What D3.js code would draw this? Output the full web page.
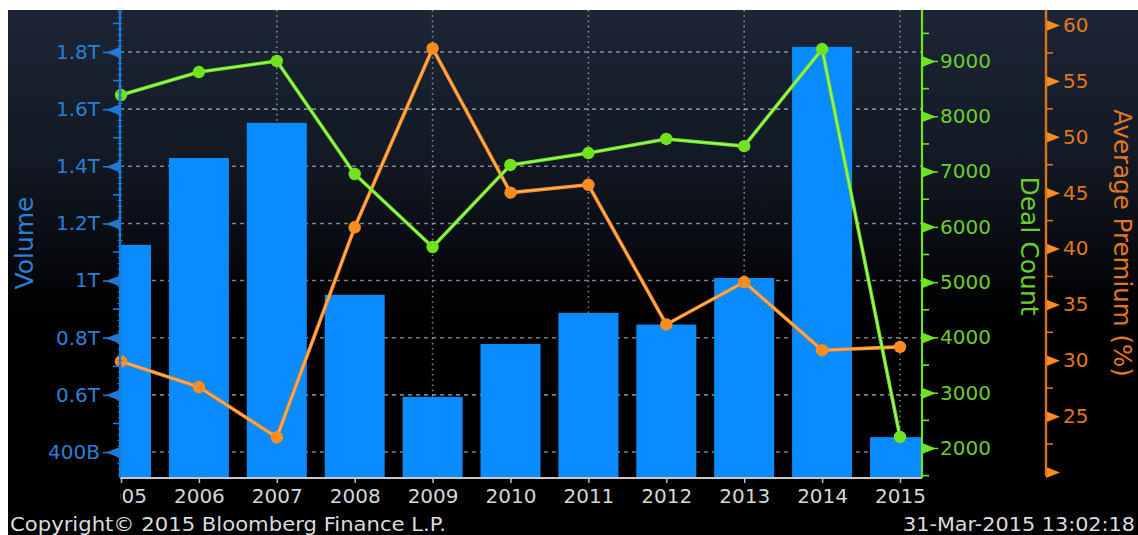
<!DOCTYPE html>
<html><head><meta charset="utf-8">
<script src="https://cdn.jsdelivr.net/npm/d3@7"></script>
<style>html,body{margin:0;padding:0;background:#fff;overflow:hidden}</style>
</head><body><svg id="c" width="1138" height="535"></svg>
<script>
// ---- data ----
const years = [2005, 2006, 2007, 2008, 2009, 2010, 2011, 2012, 2013, 2014, 2015];
const volumeT = [1.125, 1.429, 1.552, 0.950, 0.593, 0.778, 0.887, 0.846, 1.009, 1.818, 0.452];
const dealCount = [8384, 8800, 9000, 6956, 5635, 7120, 7335, 7590, 7460, 9216, 2200];
const avgPremium = [29.9, 27.6, 23.1, 41.9, 57.9, 45.0, 45.7, 33.2, 37.0, 30.9, 31.2];
const volumeTicks = [0.4, 0.6, 0.8, 1.0, 1.2, 1.4, 1.6, 1.8];
const volumeTickLabels = ["400B", "0.6T", "0.8T", "1T", "1.2T", "1.4T", "1.6T", "1.8T"];
const dealTicks = [2000, 3000, 4000, 5000, 6000, 7000, 8000, 9000];
const premiumTicks = [20, 25, 30, 35, 40, 45, 50, 55, 60];
const premiumTickLabels = ["", "25", "30", "35", "40", "45", "50", "55", "60"];
const gridYears = [2007, 2009, 2011, 2013, 2015];
const titles = { volume: "Volume", deal: "Deal Count", premium: "Average Premium (%)" };
const footerLeft = "Copyright\u00A9 2015 Bloomberg Finance L.P.";
const footerRight = "31-Mar-2015 13:02:18";

// ---- layout ----
const W = 1138, H = 535;
const L = 120, R = 922, T = 10, B = 478;
const RA = 1046;
const FONT = "'DejaVu Sans', Verdana, sans-serif";
const C = {
  bar: "#0a8cff", blueAxis: "#1f7ad6", blueText: "#2a80d6",
  green: "#6ee31e", greenText: "#6ccc2e", greenHi: "#c9ff9e",
  orange: "#ff8c1e", orangeAxis: "#d9731c", orangeText: "#e0781e", orangeHi: "#ffc996",
  grid: "rgba(205,210,215,0.6)", xText: "#d6d6d6"
};

const svg = d3.select("#c");
const defs = svg.append("defs");
const grad = defs.append("linearGradient").attr("id", "bg").attr("x1", 0).attr("y1", 0).attr("x2", 0).attr("y2", 1);
grad.append("stop").attr("offset", "0%").attr("stop-color", "#1d2636");
grad.append("stop").attr("offset", "30%").attr("stop-color", "#121823");
grad.append("stop").attr("offset", "58%").attr("stop-color", "#000");
grad.append("stop").attr("offset", "100%").attr("stop-color", "#000");
defs.append("clipPath").attr("id", "plot").append("rect").attr("x", L).attr("y", T).attr("width", R - L).attr("height", B - T);
defs.append("clipPath").attr("id", "xlab").append("rect").attr("x", L).attr("y", B).attr("width", W - L).attr("height", 40);

svg.append("rect").attr("width", W).attr("height", H).attr("fill", "#fff");
svg.append("rect").attr("x", 8).attr("y", T).attr("width", W - 8).attr("height", H - T).attr("fill", "url(#bg)");

// ---- scales ----
const x = d3.scalePoint().domain(years).range([121, 900]);
const yV = d3.scaleLinear().domain([0.4, 1.8]).range([452, 52]);
const yD = d3.scaleLinear().domain([2000, 9000]).range([448, 61]);
const yP = d3.scaleLinear().domain([20, 60]).range([472, 25]);

// ---- grid ----
const grid = svg.append("g");
grid.selectAll("line.h").data(volumeTicks).join("line")
  .attr("x1", L).attr("x2", R).attr("y1", d => yV(d)).attr("y2", d => yV(d))
  .attr("stroke", C.grid).attr("stroke-width", 1.6).attr("stroke-dasharray", "4,4");
grid.selectAll("line.v").data(gridYears).join("line")
  .attr("x1", d => x(d)).attr("x2", d => x(d)).attr("y1", T).attr("y2", B)
  .attr("stroke", C.grid).attr("stroke-width", 1.6).attr("stroke-dasharray", "1.6,3.6");

// ---- bars ----
const barW = 60;
svg.append("g").attr("clip-path", "url(#plot)").selectAll("rect").data(years).join("rect")
  .attr("x", d => x(d) - barW / 2).attr("width", barW)
  .attr("y", (d, i) => yV(volumeT[i])).attr("height", (d, i) => B - yV(volumeT[i]))
  .attr("fill", C.bar);

// ---- lines ----
function drawSeries(vals, scale, col, hi) {
  const g = svg.append("g");
  const line = d3.line().x((d, i) => x(years[i])).y(d => scale(d));
  g.append("path").datum(vals).attr("d", line).attr("fill", "none").attr("stroke", col).attr("stroke-width", 3.6).attr("stroke-linejoin", "round");
  g.append("path").datum(vals).attr("d", line).attr("fill", "none").attr("stroke", hi).attr("stroke-opacity", 0.75).attr("stroke-width", 1.1);
  g.selectAll("circle").data(vals).join("circle")
    .attr("cx", (d, i) => x(years[i])).attr("cy", d => scale(d)).attr("r", 6.2).attr("fill", col);
}
drawSeries(avgPremium, yP, C.orange, C.orangeHi);
drawSeries(dealCount, yD, C.green, C.greenHi);

// ---- x axis ----
const xwrap = svg.append("g").attr("clip-path", "url(#xlab)");
const xa = xwrap.append("g").attr("transform", `translate(0,${B})`)
  .call(d3.axisBottom(x).tickSize(5).tickPadding(6).tickFormat(d3.format("d")));
xa.select(".domain").remove();
xa.selectAll(".tick line").attr("stroke", "#bfbfbf").attr("stroke-width", 1.5);
xa.selectAll(".tick text").attr("fill", C.xText).attr("font-family", FONT).attr("font-size", 20);
svg.append("line").attr("x1", L).attr("x2", R).attr("y1", B).attr("y2", B).attr("stroke", "#c8c8c8").attr("stroke-width", 2);

// ---- left axis ----
const la = svg.append("g").attr("transform", `translate(${L},0)`)
  .call(d3.axisLeft(yV).tickValues(volumeTicks).tickSize(0).tickPadding(20).tickFormat((d, i) => volumeTickLabels[i]));
la.select(".domain").remove();
la.selectAll(".tick text").attr("fill", C.blueText).attr("font-family", FONT).attr("font-size", 20);
la.selectAll(".tick").append("path").attr("d", "M0,-5.5L-14,0L0,5.5Z").attr("fill", C.blueAxis);
la.selectAll(".tick").append("line").attr("x1", -17).attr("x2", 0).attr("stroke", C.blueAxis).attr("stroke-width", 1.6);
const micro = d3.range(0.32, 1.95, 0.02);
la.append("g").selectAll("line").data(micro).join("line")
  .attr("x1", -2.5).attr("x2", 2.5).attr("y1", d => yV(d)).attr("y2", d => yV(d)).attr("stroke", C.blueAxis).attr("stroke-width", 1);
la.append("g").selectAll("line").data(d3.range(0.5, 1.95, 0.2)).join("line")
  .attr("x1", -7).attr("x2", 0).attr("y1", d => yV(d)).attr("y2", d => yV(d)).attr("stroke", C.blueAxis).attr("stroke-width", 1.6);
la.append("line").attr("y1", T).attr("y2", B).attr("stroke", C.blueAxis).attr("stroke-width", 2.2);

// ---- deal count axis ----
const ga = svg.append("g").attr("transform", `translate(${R},0)`)
  .call(d3.axisRight(yD).tickValues(dealTicks).tickSize(0).tickPadding(18).tickFormat(d3.format("d")));
ga.select(".domain").remove();
ga.selectAll(".tick text").attr("fill", C.greenText).attr("font-family", FONT).attr("font-size", 20);
ga.selectAll(".tick").append("path").attr("d", "M0,-5.5L14,0L0,5.5Z").attr("fill", C.green);
ga.selectAll(".tick").append("line").attr("x1", 0).attr("x2", 16).attr("stroke", C.green).attr("stroke-width", 1.4);
ga.append("g").selectAll("line").data(d3.range(1500, 9600, 1000)).join("line")
  .attr("x1", 0).attr("x2", 7).attr("y1", d => yD(d)).attr("y2", d => yD(d)).attr("stroke", C.green).attr("stroke-width", 1.6);
ga.append("line").attr("y1", T).attr("y2", B).attr("stroke", C.green).attr("stroke-width", 2.2);

// ---- premium axis ----
const pa = svg.append("g").attr("transform", `translate(${RA},0)`)
  .call(d3.axisRight(yP).tickValues(premiumTicks).tickSize(0).tickPadding(17).tickFormat((d, i) => premiumTickLabels[i]));
pa.select(".domain").remove();
pa.selectAll(".tick text").attr("fill", C.orangeText).attr("font-family", FONT).attr("font-size", 20);
pa.selectAll(".tick").append("path").attr("d", "M0,-5.5L14,0L0,5.5Z").attr("fill", C.orange);
pa.append("g").selectAll("line").data(d3.range(22.5, 60, 5)).join("line")
  .attr("x1", 0).attr("x2", 7).attr("y1", d => yP(d)).attr("y2", d => yP(d)).attr("stroke", C.orangeAxis).attr("stroke-width", 1.6);
pa.append("line").attr("y1", T).attr("y2", 476).attr("stroke", C.orangeAxis).attr("stroke-width", 2.4);

// ---- titles ----
svg.append("text").attr("transform", "translate(24,243) rotate(-90)")
  .attr("text-anchor", "middle").attr("dominant-baseline", "central")
  .attr("fill", C.blueText).attr("font-family", FONT).attr("font-size", 25).text(titles.volume);
svg.append("text").attr("transform", "translate(1029,246) rotate(90)")
  .attr("text-anchor", "middle").attr("dominant-baseline", "central")
  .attr("fill", C.greenText).attr("font-family", FONT).attr("font-size", 25).text(titles.deal);
svg.append("text").attr("transform", "translate(1122,243) rotate(90)")
  .attr("text-anchor", "middle").attr("dominant-baseline", "central")
  .attr("fill", C.orangeText).attr("font-family", FONT).attr("font-size", 24.5).text(titles.premium);

// ---- footer ----
svg.append("text").attr("x", 10).attr("y", 531).attr("fill", "#dcdcdc").attr("font-family", FONT)
  .attr("font-size", 20).attr("textLength", 436).attr("lengthAdjust", "spacingAndGlyphs").text(footerLeft);
svg.append("text").attr("x", 903).attr("y", 531).attr("fill", "#dcdcdc").attr("font-family", FONT)
  .attr("font-size", 20).attr("textLength", 232).attr("lengthAdjust", "spacingAndGlyphs").text(footerRight);
</script>
</body></html>
